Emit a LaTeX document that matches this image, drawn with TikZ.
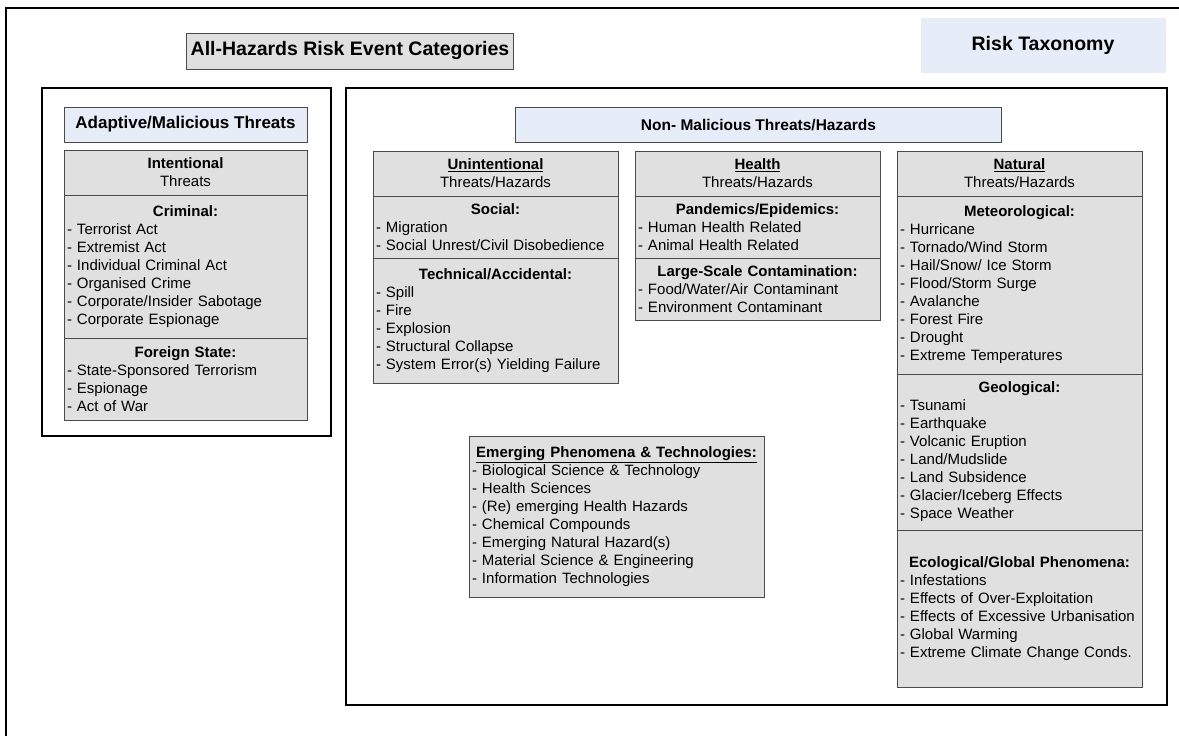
\documentclass[tikz,border=0pt]{standalone}
\usepackage{fontspec}
\setmainfont{Liberation Sans}
\usetikzlibrary{positioning}
\setlength\parindent{0pt}
\definecolor{taxblue}{HTML}{E6EDF8}
\definecolor{catgray}{HTML}{E0E0E0}
\definecolor{catline}{HTML}{4A4A4A}
\newcommand\itemsize{\fontsize{15}{18}\selectfont}
\newcommand\hd[1]{\hbox to\hsize{\hss\textbf{#1}\hss}\\}
\tikzset
{
    panel/.style    = {draw=black, line width=1.2pt, anchor=north west, inner sep=0pt, outer sep=0pt},
    titlebox/.style = {draw=catline, fill=catgray, line width=0.8pt, font=\fontsize{19.5}{22}\selectfont\bfseries},
    taxbox/.style   = {fill=taxblue, minimum width=245pt, minimum height=55pt, font=\fontsize{19.5}{22}\selectfont\bfseries},
    groupbox/.style = {draw=catline, fill=taxblue, line width=0.8pt, minimum height=35pt},
    cathead/.style  = {draw=catline, fill=catgray, line width=0.8pt, outer sep=0pt, inner xsep=3pt, inner ysep=0pt, text width=#1, align=center, minimum height=45pt, font=\itemsize},
    catlist/.style  = {draw=catline, fill=catgray, line width=0.8pt, outer sep=0pt, inner xsep=3pt, inner ysep=0pt, text width=#1, align=left, font=\itemsize}
}

\begin{document}
\begin{tikzpicture}[x=1pt, y=-1pt]
	\useasboundingbox (0,0) rectangle (1179,736);
	\draw[line width=2pt] (6,736) -- (6,8) -- (1179,8);
	\node[panel, minimum width=289pt, minimum height=348pt] (malpanel) at (42,88) {};
	\node[panel, minimum width=821pt, minimum height=617pt] (nonmalpanel) at (346,88) {};
	\node[titlebox, minimum width=327pt, minimum height=36pt] (title) at (350,51) {All-Hazards Risk Event Categories};
	\node[taxbox] (taxonomy) at (1043,45) {Risk Taxonomy};
	\node[groupbox, minimum width=243pt, font=\fontsize{17}{20}\selectfont\bfseries] (adaptive) at (185.5,124.5) {Adaptive/Malicious Threats};
	\node[groupbox, minimum width=486pt, font=\fontsize{15.5}{18}\selectfont\bfseries] (nonmal) at (758.5,125) {Non- Malicious Threats/Hazards};

	\node[cathead=237pt] (inthead) at (185.5,172.5) {\textbf{Intentional}\\Threats};
	\node[catlist=237pt, below=0pt of inthead, minimum height=143pt] (criminal)
	{
		\hd{Criminal:}- Terrorist Act\\- Extremist Act\\- Individual Criminal Act\\- Organised Crime\\- Corporate/Insider Sabotage\\- Corporate Espionage
	};
	\node[catlist=237pt, below=0pt of criminal, minimum height=82pt] (foreign)
	{
		\hd{Foreign State:}- State-Sponsored Terrorism\\- Espionage\\- Act of War
	};

	\node[cathead=239pt] (unhead) at (495.5,173.5) {\underline{\textbf{Unintentional}}\\Threats/Hazards};
	\node[catlist=239pt, below=0pt of unhead, minimum height=62pt] (social)
	{
		\hd{Social:}- Migration\\- Social Unrest/Civil Disobedience
	};
	\node[catlist=239pt, below=0pt of social, minimum height=125pt] (technical)
	{
		\hd{Technical/Accidental:}- Spill\\- Fire\\- Explosion\\- Structural Collapse\\- System Error(s) Yielding Failure
	};

	\node[cathead=239pt] (healthhead) at (757.5,173.5) {\underline{\textbf{Health}}\\Threats/Hazards};
	\node[catlist=239pt, below=0pt of healthhead, minimum height=62pt] (pandemic)
	{
		\hd{Pandemics/Epidemics:}- Human Health Related\\- Animal Health Related
	};
	\node[catlist=239pt, below=0pt of pandemic, minimum height=62pt] (contamination)
	{
		\hd{Large-Scale Contamination:}- Food/Water/Air Contaminant\\- Environment Contaminant
	};

	\node[cathead=239pt] (naturalhead) at (1019.5,173.5) {\underline{\textbf{Natural}}\\Threats/Hazards};
	\node[catlist=239pt, below=0pt of naturalhead, minimum height=178pt] (meteo)
	{
		\hd{Meteorological:}- Hurricane\\- Tornado/Wind Storm\\- Hail/Snow/ Ice Storm\\- Flood/Storm Surge\\- Avalanche\\- Forest Fire\\- Drought\\- Extreme Temperatures
	};
	\node[catlist=239pt, below=0pt of meteo, minimum height=156pt] (geo)
	{
		\hd{Geological:}- Tsunami\\- Earthquake\\- Volcanic Eruption\\- Land/Mudslide\\- Land Subsidence\\- Glacier/Iceberg Effects\\- Space Weather
	};
	\node[catlist=239pt, below=0pt of geo, minimum height=157pt] (eco)
	{
		\hd{Ecological/Global Phenomena:}- Infestations\\- Effects of Over-Exploitation\\- Effects of Excessive Urbanisation\\- Global Warming\\- Extreme Climate Change Conds.
	};

	\node[catlist=289pt, minimum height=161pt] (emerging) at (616.5,516.5)
	{
		\hd{\underline{Emerging Phenomena \& Technologies:}}- Biological Science \& Technology\\- Health Sciences\\- (Re) emerging Health Hazards\\- Chemical Compounds\\- Emerging Natural Hazard(s)\\- Material Science \& Engineering\\- Information Technologies
	};
\end{tikzpicture}
\end{document}
